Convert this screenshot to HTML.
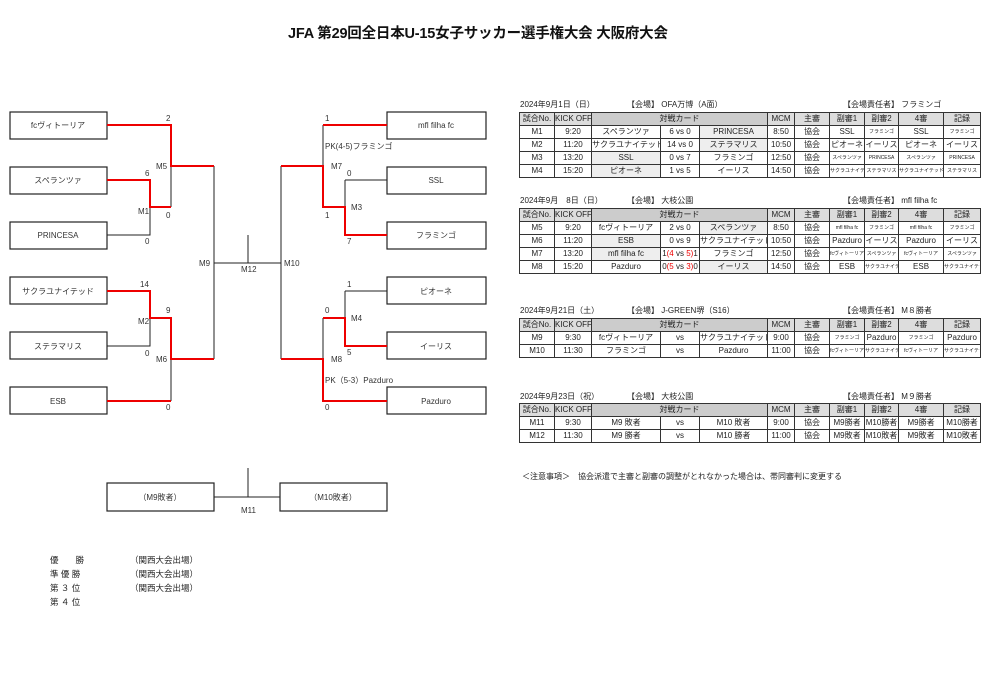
<!DOCTYPE html>
<html><head><meta charset="utf-8">
<style>
body{margin:0;width:1000px;height:673px;background:#fff;position:relative;overflow:hidden;font-family:"Liberation Sans","Noto Sans CJK JP",sans-serif;color:#222}
.a{position:absolute;white-space:nowrap}
.t{position:absolute;left:519px;width:461px;border-collapse:collapse;table-layout:fixed;font-size:8px}
.t td{height:12px;padding:0;border:1px solid #333;text-align:center;overflow:hidden;white-space:nowrap;line-height:12px}
.t tr.h td{background:#ddd}
.t tr.h td.c{background:#ccc}
.g{background:#eee}
.s{font-size:5px}
.r{color:#e00}
.lbl{font-size:8px}
</style></head><body>
<div class="a" style="left:288px;top:22px;font-size:14.5px;font-weight:bold;letter-spacing:-0.2px;color:#111">JFA 第29回全日本U-15女子サッカー選手権大会 大阪府大会</div>

<svg class="a" style="left:0;top:0" width="520" height="673" viewBox="0 0 520 673">
<g fill="#fff" stroke="#222" stroke-width="1.2">
<rect x="10" y="112" width="97" height="27"/><rect x="10" y="167" width="97" height="27"/><rect x="10" y="222" width="97" height="27"/>
<rect x="10" y="277" width="97" height="27"/><rect x="10" y="332" width="97" height="27"/><rect x="10" y="387" width="97" height="27"/>
<rect x="387" y="112" width="99" height="27"/><rect x="387" y="167" width="99" height="27"/><rect x="387" y="222" width="99" height="27"/>
<rect x="387" y="277" width="99" height="27"/><rect x="387" y="332" width="99" height="27"/><rect x="387" y="387" width="99" height="27"/>
<rect x="107" y="483" width="107" height="28"/><rect x="280" y="483" width="107" height="28"/>
</g>
<g stroke="#222" stroke-width="1" fill="none">
<path d="M107 235H150V207M171 166V207M107 346H150V318M171 359V401"/>
<path d="M214 166V359M214 263H281M248 235V263M281 166V359"/>
<path d="M323 125V166M345 180V207M345 180H387M345 291V318M345 291H387M323 318V359"/>
<path d="M214 497H280M248 468V497"/>
</g>
<g stroke="#e00" stroke-width="2" fill="none">
<path d="M107 125H171V166H214"/>
<path d="M107 180H150V207H171"/>
<path d="M107 291H150V318H171V359H214"/>
<path d="M107 401H171"/>
<path d="M281 166H323V207H345V235H387"/>
<path d="M323 125H387"/>
<path d="M281 359H323V401H387"/>
<path d="M323 318H345V346H387"/>
</g>
<g font-size="8" fill="#333" font-family="Liberation Sans,Noto Sans CJK JP,sans-serif" text-anchor="middle">
<text x="58" y="128">fcヴィトーリア</text><text x="58" y="183">スペランツァ</text><text x="58" y="238">PRINCESA</text>
<text x="58" y="294">サクラユナイテッド</text><text x="58" y="349">ステラマリス</text><text x="58" y="404">ESB</text>
<text x="436" y="128">mfl filha fc</text><text x="436" y="183">SSL</text><text x="436" y="238">フラミンゴ</text>
<text x="436" y="294">ピオーネ</text><text x="436" y="349">イーリス</text><text x="436" y="404">Pazduro</text>
<text x="160" y="500">（M9敗者）</text><text x="333" y="500">（M10敗者）</text>
</g>
<g font-size="8" fill="#333" font-family="Liberation Sans,Noto Sans CJK JP,sans-serif">
<text x="166" y="121">2</text><text x="145" y="176">6</text><text x="138" y="214">M1</text><text x="166" y="218">0</text>
<text x="156" y="169">M5</text><text x="145" y="244">0</text>
<text x="140" y="287">14</text><text x="138" y="324">M2</text><text x="166" y="313">9</text><text x="145" y="356">0</text>
<text x="156" y="362">M6</text><text x="166" y="410">0</text>
<text x="199" y="266">M9</text><text x="241" y="272">M12</text><text x="284" y="266">M10</text>
<text x="325" y="121">1</text><text x="325" y="149">PK(4-5)フラミンゴ</text><text x="331" y="169">M7</text>
<text x="347" y="176">0</text><text x="351" y="210">M3</text><text x="325" y="218">1</text><text x="347" y="244">7</text>
<text x="347" y="287">1</text><text x="325" y="313">0</text><text x="351" y="321">M4</text><text x="347" y="355">5</text>
<text x="331" y="362">M8</text><text x="325" y="383">PK（5-3）Pazduro</text><text x="325" y="410">0</text>
<text x="241" y="513">M11</text>
</g>
</svg>

<div class="a" style="left:50px;top:553px;font-size:8.5px;line-height:14px">優　　勝<br>準 優 勝<br>第 ３ 位<br>第 ４ 位</div>
<div class="a" style="left:130px;top:553px;font-size:8.5px;line-height:14px">（関西大会出場）<br>（関西大会出場）<br>（関西大会出場）</div>

<div class="a lbl" style="left:520px;top:99px">2024年9月1日（日）</div>
<div class="a lbl" style="left:627px;top:99px">【会場】 OFA万博（A面）</div>
<div class="a lbl" style="left:843px;top:99px">【会場責任者】 フラミンゴ</div>
<table class="t" style="top:112px">
<colgroup><col width="35"><col width="37"><col width="69"><col width="39"><col width="68"><col width="27"><col width="35"><col width="35"><col width="34"><col width="45"><col width="37"></colgroup>
<tr class="h"><td>試合No.</td><td>KICK OFF</td><td class="c" colspan="3">対戦カード</td><td>MCM</td><td>主審</td><td>副審1</td><td>副審2</td><td>4審</td><td>記録</td></tr>
<tr><td>M1</td><td>9:20</td><td>スペランツァ</td><td>6 vs 0</td><td class="g">PRINCESA</td><td>8:50</td><td>協会</td><td>SSL</td><td class="s">フラミンゴ</td><td>SSL</td><td class="s">フラミンゴ</td></tr>
<tr><td>M2</td><td>11:20</td><td>サクラユナイテッド</td><td>14 vs 0</td><td class="g">ステラマリス</td><td>10:50</td><td>協会</td><td>ピオーネ</td><td>イーリス</td><td>ピオーネ</td><td>イーリス</td></tr>
<tr><td>M3</td><td>13:20</td><td class="g">SSL</td><td>0 vs 7</td><td>フラミンゴ</td><td>12:50</td><td>協会</td><td class="s">スペランツァ</td><td class="s">PRINCESA</td><td class="s">スペランツァ</td><td class="s">PRINCESA</td></tr>
<tr><td>M4</td><td>15:20</td><td class="g">ピオーネ</td><td>1 vs 5</td><td>イーリス</td><td>14:50</td><td>協会</td><td class="s">サクラユナイテッド</td><td class="s">ステラマリス</td><td class="s">サクラユナイテッド</td><td class="s">ステラマリス</td></tr>
</table>

<div class="a lbl" style="left:520px;top:195px">2024年9月　8日（日）</div>
<div class="a lbl" style="left:627px;top:195px">【会場】 大枝公園</div>
<div class="a lbl" style="left:843px;top:195px">【会場責任者】 mfl filha fc</div>
<table class="t" style="top:208px">
<colgroup><col width="35"><col width="37"><col width="69"><col width="39"><col width="68"><col width="27"><col width="35"><col width="35"><col width="34"><col width="45"><col width="37"></colgroup>
<tr class="h"><td>試合No.</td><td>KICK OFF</td><td class="c" colspan="3">対戦カード</td><td>MCM</td><td>主審</td><td>副審1</td><td>副審2</td><td>4審</td><td>記録</td></tr>
<tr><td>M5</td><td>9:20</td><td>fcヴィトーリア</td><td>2 vs 0</td><td class="g">スペランツァ</td><td>8:50</td><td>協会</td><td class="s">mfl filha fc</td><td class="s">フラミンゴ</td><td class="s">mfl filha fc</td><td class="s">フラミンゴ</td></tr>
<tr><td>M6</td><td>11:20</td><td class="g">ESB</td><td>0 vs 9</td><td>サクラユナイテッド</td><td>10:50</td><td>協会</td><td>Pazduro</td><td>イーリス</td><td>Pazduro</td><td>イーリス</td></tr>
<tr><td>M7</td><td>13:20</td><td class="g">mfl filha fc</td><td>1<span class="r">(4</span> vs <span class="r">5)</span>1</td><td>フラミンゴ</td><td>12:50</td><td>協会</td><td class="s">fcヴィトーリア</td><td class="s">スペランツァ</td><td class="s">fcヴィトーリア</td><td class="s">スペランツァ</td></tr>
<tr><td>M8</td><td>15:20</td><td>Pazduro</td><td>0<span class="r">(5</span> vs <span class="r">3)</span>0</td><td class="g">イーリス</td><td>14:50</td><td>協会</td><td>ESB</td><td class="s">サクラユナイテッド</td><td>ESB</td><td class="s">サクラユナイテッド</td></tr>
</table>

<div class="a lbl" style="left:520px;top:305px">2024年9月21日（土）</div>
<div class="a lbl" style="left:627px;top:305px">【会場】 J-GREEN堺（S16）</div>
<div class="a lbl" style="left:843px;top:305px">【会場責任者】 M８勝者</div>
<table class="t" style="top:318px">
<colgroup><col width="35"><col width="37"><col width="69"><col width="39"><col width="68"><col width="27"><col width="35"><col width="35"><col width="34"><col width="45"><col width="37"></colgroup>
<tr class="h"><td>試合No.</td><td>KICK OFF</td><td class="c" colspan="3">対戦カード</td><td>MCM</td><td>主審</td><td>副審1</td><td>副審2</td><td>4審</td><td>記録</td></tr>
<tr><td>M9</td><td>9:30</td><td>fcヴィトーリア</td><td>vs</td><td>サクラユナイテッド</td><td>9:00</td><td>協会</td><td class="s">フラミンゴ</td><td>Pazduro</td><td class="s">フラミンゴ</td><td>Pazduro</td></tr>
<tr><td>M10</td><td>11:30</td><td>フラミンゴ</td><td>vs</td><td>Pazduro</td><td>11:00</td><td>協会</td><td class="s">fcヴィトーリア</td><td class="s">サクラユナイテッド</td><td class="s">fcヴィトーリア</td><td class="s">サクラユナイテッド</td></tr>
</table>

<div class="a lbl" style="left:520px;top:391px">2024年9月23日（祝）</div>
<div class="a lbl" style="left:627px;top:391px">【会場】 大枝公園</div>
<div class="a lbl" style="left:843px;top:391px">【会場責任者】 M９勝者</div>
<table class="t" style="top:403px">
<colgroup><col width="35"><col width="37"><col width="69"><col width="39"><col width="68"><col width="27"><col width="35"><col width="35"><col width="34"><col width="45"><col width="37"></colgroup>
<tr class="h"><td>試合No.</td><td>KICK OFF</td><td class="c" colspan="3">対戦カード</td><td>MCM</td><td>主審</td><td>副審1</td><td>副審2</td><td>4審</td><td>記録</td></tr>
<tr><td>M11</td><td>9:30</td><td>M9 敗者</td><td>vs</td><td>M10 敗者</td><td>9:00</td><td>協会</td><td>M9勝者</td><td>M10勝者</td><td>M9勝者</td><td>M10勝者</td></tr>
<tr><td>M12</td><td>11:30</td><td>M9 勝者</td><td>vs</td><td>M10 勝者</td><td>11:00</td><td>協会</td><td>M9敗者</td><td>M10敗者</td><td>M9敗者</td><td>M10敗者</td></tr>
</table>

<div class="a" style="left:522px;top:471px;font-size:8px">＜注意事項＞　協会派遣で主審と副審の調整がとれなかった場合は、帯同審判に変更する</div>
</body></html>
